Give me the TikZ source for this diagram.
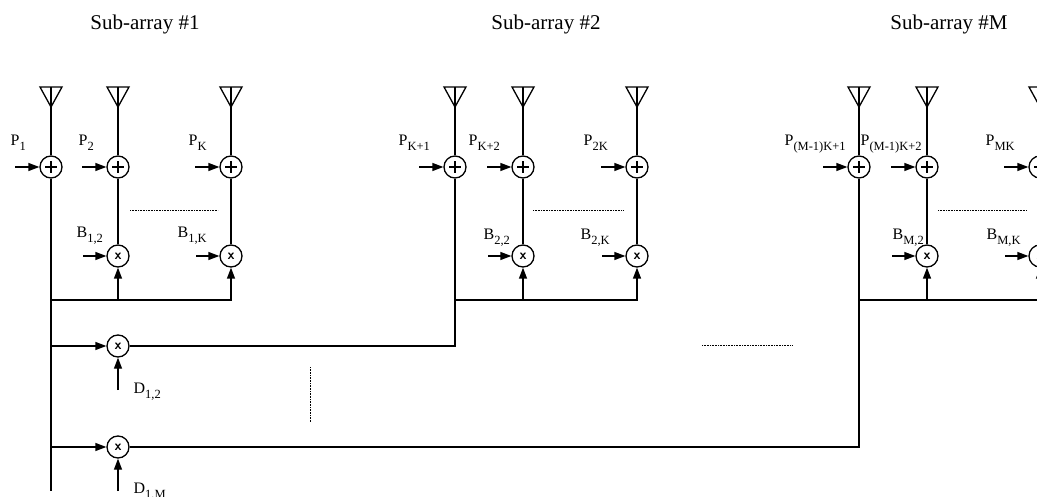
\documentclass[tikz,border=0pt]{standalone}
\usepackage{fontspec}
\setmainfont{Liberation Serif}
\usetikzlibrary{arrows.meta,calc}
\newcommand\lbl[2]{#1\raisebox{-5pt}{\fontsize{12.5}{13}\selectfont #2}}
\begin{document}
\begin{tikzpicture}[x=1pt,y=-1pt, line width=1.3pt,
 adder/.style={circle,draw,minimum size=22pt,inner sep=0pt,
   path picture={\draw[line width=1.9pt] ([xshift=-6pt]path picture bounding box.center) -- ([xshift=6pt]path picture bounding box.center);
                 \draw[line width=1.9pt] ([yshift=-6pt]path picture bounding box.center) -- ([yshift=6pt]path picture bounding box.center);}},
 mult/.style={circle,draw,minimum size=22pt,inner sep=0pt,font=\fontsize{14}{14}\selectfont\sffamily\bfseries},
 feed/.style={-{Triangle[length=11pt,width=8pt]}},
 dots/.style={line width=0.8pt,dash pattern=on 0.8pt off 0.8pt},
 lab/.style={anchor=base west,inner sep=0pt,font=\fontsize{16}{16}\selectfont},
 title/.style={anchor=base,inner sep=0pt,font=\fontsize{21}{21}\selectfont}]
\useasboundingbox (0,0) rectangle (1037,497);

% titles
\node[title] (ti1) at (145,30) {Sub-array \#1};
\node[title] (ti2) at (546,30) {Sub-array \#2};
\node[title] (tiM) at (949,30) {Sub-array \#M};

% antennas and adders
\foreach \n/\x in {s1a/51, s1b/118, s1c/231, s2a/455, s2b/523, s2c/637, sMa/859, sMb/927, sMc/1040} {
  \coordinate (t\n) at (\x,87);
  \draw (t\n) ++(-11,0) -- ++(22,0) -- ++(-11,20) -- cycle;
  \node[adder] (p\n) at (\x,167) {};
  \draw (t\n) -- (p\n.north);
  \draw[feed] ([xshift=-24pt]p\n.west) -- (p\n.west);
}

% multipliers
\foreach \n/\x in {s1b/118, s1c/231, s2b/523, s2c/637, sMb/927, sMc/1040} {
  \node[mult] (m\n) at (\x,256) {x};
  \draw (p\n.south) -- (m\n.north);
  \draw[feed] ([xshift=-23pt]m\n.west) -- (m\n.west);
}

% buses
\coordinate (bs1) at (51,300);
\coordinate (bs2) at (455,300);
\coordinate (bsM) at (859,300);
\draw[feed] (bs1) -| (ms1c.south);
\draw[feed] (bs1 -| ms1b) -- (ms1b.south);
\draw[feed] (bs2) -| (ms2c.south);
\draw[feed] (bs2 -| ms2b) -- (ms2b.south);
\draw[feed] (bsM) -| (msMc.south);
\draw[feed] (bsM -| msMb) -- (msMb.south);

% inter-sub-array multipliers
\coordinate (base) at (51,491);
\draw (ps1a.south) -- (base);
\node[mult] (d12) at (118,346) {x};
\node[mult] (d1M) at (118,447) {x};
\draw[feed] (d12 -| base) -- (d12.west);
\draw[feed] (d1M -| base) -- (d1M.west);
\draw (d12.east) -| (ps2a.south);
\draw (d1M.east) -| (psMa.south);
\coordinate (dl12) at (118,390);
\coordinate (dl1M) at (118,491);
\draw[feed] (dl12) -- (d12.south);
\draw[feed] (dl1M) -- (d1M.south);

% dotted continuation marks
\draw[dots] (130,210) -- (218,210);
\draw[dots] (533,210) -- (623,210);
\draw[dots] (938,210) -- (1027,210);
\draw[dots] (702,345) -- (792,345);
\draw[dots] (310,367) -- (310,422);

% labels
\node[lab] (lp1) at (10,146) {\lbl{P}{1}};
\node[lab] (lp2) at (78,146) {\lbl{P}{2}};
\node[lab] (lpK) at (188,146) {\lbl{P}{K}};
\node[lab] (lpK1) at (398,146) {\lbl{P}{K+1}};
\node[lab] (lpK2) at (468,146) {\lbl{P}{K+2}};
\node[lab] (lp2K) at (583,146) {\lbl{P}{2K}};
\node[lab] (lpM1) at (784,146) {\lbl{P}{(M-1)K+1}};
\node[lab] (lpM2) at (860,146) {\lbl{P}{(M-1)K+2}};
\node[lab] (lpMK) at (985,146) {\lbl{P}{MK}};

\node[lab] (lb12) at (76,238) {\lbl{B}{1,2}};
\node[lab] (lb1K) at (177,238) {\lbl{B}{1,K}};
\node[lab] (lb22) at (483,240) {\lbl{B}{2,2}};
\node[lab] (lb2K) at (580,240) {\lbl{B}{2,K}};
\node[lab] (lbM2) at (892,240) {\lbl{B}{M,2}};
\node[lab] (lbMK) at (986,240) {\lbl{B}{M,K}};

\node[lab] (ld12) at (133,393) {\lbl{D}{1,2}};
\node[lab] (ld1M) at (133,493) {\lbl{D}{1,M}};
\end{tikzpicture}
\end{document}
